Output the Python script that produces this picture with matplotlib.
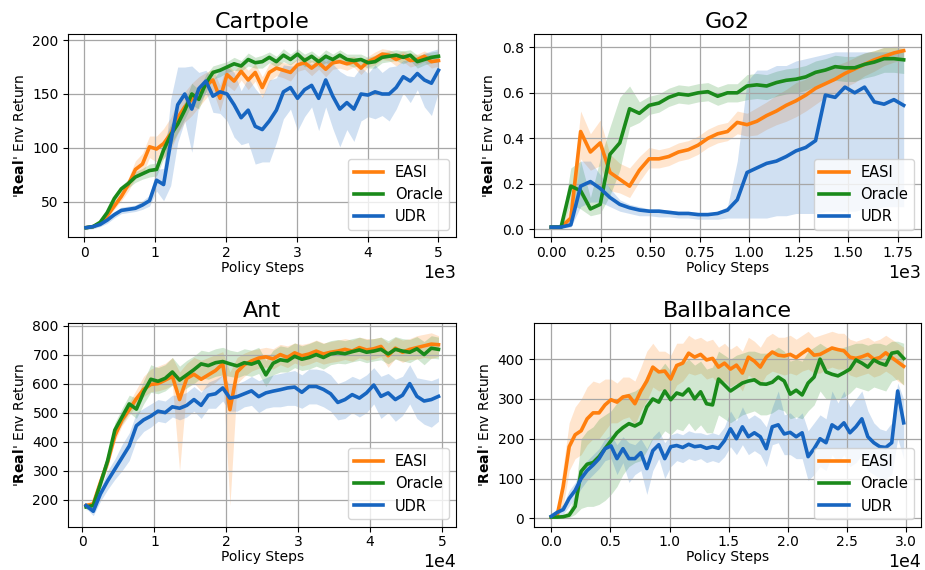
import matplotlib
matplotlib.use("Agg")
import matplotlib.pyplot as plt
import numpy as np

# colours of the three methods
c_easi = "#ff7f0e"
c_oracle = "#1a8a1a"
c_udr = "#1765c0"

# ---------------- Cartpole (steps, 1e3) ----------------
cp_steps = np.linspace(25, 5000, 51)
cp_easi = [26, 27, 30, 37, 46, 55, 66, 80, 85, 101,
           99, 104, 113, 128, 138, 145, 152, 158, 163, 146,
           168, 162, 171, 163, 170, 156, 170, 174, 172, 170,
           177, 179, 174, 179, 173, 179, 180, 178, 180, 174,
           180, 183, 187, 186, 182, 185, 181, 182, 185, 180, 181]
cp_oracle = [26, 27, 31, 40, 53, 62, 67, 73, 76, 79,
             80, 98, 112, 122, 135, 150, 145, 160, 170, 172,
             175, 178, 176, 182, 179, 180, 184, 180, 186, 182,
             187, 181, 185, 180, 185, 182, 186, 182, 181, 182,
             179, 180, 184, 185, 186, 184, 186, 180, 182, 184, 185]
cp_udr = [26, 27, 29, 33, 38, 42, 43, 44, 47, 51,
          70, 66, 105, 140, 150, 136, 155, 162, 148, 152,
          150, 140, 128, 135, 120, 117, 125, 135, 152, 156,
          146, 154, 158, 146, 163, 148, 136, 142, 136, 150,
          149, 152, 150, 150, 156, 166, 162, 169, 163, 160, 172]
cp_easi_sd = [1, 1, 2, 2, 3, 4, 6, 8, 10, 10,
              12, 14, 15, 15, 14, 15, 14, 12, 10, 12,
              10, 9, 8, 9, 8, 10, 8, 7, 7, 8,
              6, 6, 7, 6, 7, 6, 6, 6, 5, 6,
              5, 6, 5, 5, 6, 5, 6, 5, 5, 6, 5]
cp_oracle_sd = [1, 1, 2, 2, 3, 3, 4, 5, 5, 6,
                6, 8, 10, 8, 8, 10, 9, 8, 6, 6,
                5, 6, 5, 6, 5, 6, 5, 5, 6, 5,
                5, 6, 5, 5, 6, 5, 5, 5, 6, 5,
                5, 6, 5, 5, 5, 6, 5, 6, 5, 5, 5]
cp_udr_sd = [2, 2, 2, 3, 3, 3, 3, 3, 4, 5,
             10, 15, 40, 35, 25, 40, 15, 10, 15, 20,
             25, 30, 25, 30, 35, 30, 38, 30, 25, 20,
             30, 25, 20, 30, 25, 30, 35, 25, 30, 25,
             20, 25, 20, 25, 20, 15, 20, 15, 25, 30, 20]

# ---------------- Go2 (steps, 1e3) ----------------
go_steps = np.linspace(0, 1780, 37)
go_easi = [0.01, 0.01, 0.05, 0.43, 0.34, 0.38, 0.25, 0.22, 0.19, 0.26,
           0.31, 0.31, 0.32, 0.34, 0.35, 0.37, 0.40, 0.42, 0.43, 0.47,
           0.46, 0.475, 0.50, 0.52, 0.545, 0.565, 0.59, 0.62, 0.64, 0.66,
           0.685, 0.705, 0.725, 0.745, 0.76, 0.775, 0.785]
go_easi_lo = [0.005, 0.005, 0.02, 0.31, 0.26, 0.28, 0.17, 0.16, 0.14, 0.21,
              0.27, 0.27, 0.28, 0.30, 0.31, 0.33, 0.36, 0.38, 0.39, 0.42,
              0.41, 0.415, 0.44, 0.46, 0.475, 0.495, 0.52, 0.55, 0.58, 0.60,
              0.625, 0.645, 0.675, 0.695, 0.72, 0.735, 0.745]
go_easi_hi = [0.015, 0.015, 0.10, 0.52, 0.42, 0.48, 0.33, 0.29, 0.27, 0.32,
              0.36, 0.35, 0.36, 0.38, 0.39, 0.41, 0.44, 0.46, 0.47, 0.52,
              0.51, 0.535, 0.56, 0.59, 0.615, 0.645, 0.66, 0.69, 0.70, 0.72,
              0.735, 0.755, 0.775, 0.785, 0.80, 0.805, 0.805]
go_oracle = [0.01, 0.01, 0.19, 0.17, 0.09, 0.11, 0.33, 0.38, 0.53, 0.51,
             0.545, 0.555, 0.58, 0.595, 0.59, 0.60, 0.605, 0.585, 0.60, 0.60,
             0.63, 0.635, 0.63, 0.645, 0.655, 0.66, 0.67, 0.69, 0.70, 0.715,
             0.71, 0.71, 0.725, 0.735, 0.75, 0.75, 0.745]
go_oracle_lo = [0.005, 0.005, 0.11, 0.09, 0.06, 0.07, 0.15, 0.26, 0.45, 0.47,
                0.505, 0.515, 0.54, 0.555, 0.55, 0.56, 0.565, 0.545, 0.56, 0.56,
                0.57, 0.575, 0.57, 0.585, 0.595, 0.60, 0.61, 0.63, 0.64, 0.655,
                0.65, 0.65, 0.665, 0.675, 0.69, 0.69, 0.685]
go_oracle_hi = [0.015, 0.015, 0.27, 0.30, 0.14, 0.31, 0.45, 0.58, 0.63, 0.56,
                0.585, 0.595, 0.62, 0.635, 0.63, 0.64, 0.645, 0.625, 0.64, 0.64,
                0.68, 0.685, 0.68, 0.695, 0.705, 0.71, 0.72, 0.74, 0.75, 0.765,
                0.76, 0.76, 0.775, 0.785, 0.80, 0.80, 0.795]
go_udr = [0.01, 0.01, 0.02, 0.19, 0.21, 0.18, 0.14, 0.11, 0.095, 0.085,
          0.08, 0.08, 0.075, 0.07, 0.07, 0.065, 0.065, 0.07, 0.085, 0.13,
          0.25, 0.27, 0.29, 0.30, 0.32, 0.345, 0.36, 0.39, 0.59, 0.58,
          0.625, 0.60, 0.625, 0.56, 0.55, 0.57, 0.545]
go_udr_lo = [0.005, 0.005, 0.01, 0.10, 0.12, 0.12, 0.10, 0.08, 0.07, 0.06,
             0.06, 0.055, 0.055, 0.05, 0.05, 0.045, 0.045, 0.045, 0.05, 0.05,
             0.05, 0.05, 0.05, 0.06, 0.06, 0.07, 0.07, 0.07, 0.08, 0.08,
             0.08, 0.08, 0.09, 0.09, 0.10, 0.10, 0.10]
go_udr_hi = [0.015, 0.015, 0.04, 0.30, 0.30, 0.24, 0.18, 0.13, 0.11, 0.10,
             0.09, 0.09, 0.085, 0.08, 0.08, 0.075, 0.07, 0.08, 0.10, 0.30,
             0.65, 0.70, 0.70, 0.72, 0.72, 0.74, 0.75, 0.76, 0.77, 0.78,
             0.78, 0.78, 0.78, 0.78, 0.78, 0.78, 0.78]

# ---------------- Ant (steps, 1e4) ----------------
ant_steps = np.linspace(500, 49500, 50)
ant_easi = [180, 185, 260, 330, 420, 475, 510, 548, 580, 597,
            600, 612, 625, 545, 618, 632, 615, 630, 645, 668,
            510, 640, 665, 678, 688, 692, 685, 700, 690, 706,
            696, 702, 712, 702, 708, 712, 718, 712, 724, 716,
            720, 728, 696, 722, 708, 718, 724, 730, 736, 734]
ant_easi_lo = [170, 175, 245, 310, 400, 455, 490, 528, 555, 572,
               575, 582, 595, 300, 588, 602, 575, 590, 605, 628,
               180, 600, 625, 643, 653, 657, 650, 665, 655, 671,
               661, 667, 677, 667, 673, 677, 683, 677, 689, 681,
               685, 693, 656, 687, 673, 683, 684, 690, 686, 694]
ant_easi_hi = [190, 195, 275, 350, 440, 495, 535, 580, 625, 650,
               660, 670, 690, 640, 670, 690, 680, 690, 700, 710,
               640, 690, 705, 715, 720, 725, 720, 735, 730, 740,
               735, 740, 750, 740, 745, 750, 755, 750, 760, 755,
               755, 760, 740, 760, 750, 755, 765, 770, 775, 765]
ant_oracle = [175, 180, 255, 335, 440, 485, 530, 512, 570, 615,
              608, 618, 640, 612, 630, 648, 668, 662, 672, 676,
              668, 661, 672, 667, 676, 630, 670, 682, 678, 694,
              684, 690, 700, 690, 702, 706, 703, 710, 716, 708,
              712, 718, 702, 718, 712, 708, 720, 700, 722, 718]
ant_oracle_lo = [165, 170, 240, 315, 420, 460, 500, 480, 530, 570,
                 565, 575, 595, 570, 585, 600, 620, 615, 625, 630,
                 625, 620, 630, 625, 635, 590, 630, 640, 640, 655,
                 645, 650, 660, 650, 665, 670, 668, 675, 680, 672,
                 678, 682, 668, 684, 678, 672, 686, 665, 688, 685]
ant_oracle_hi = [185, 195, 275, 355, 465, 515, 560, 550, 610, 665,
                 655, 665, 690, 660, 680, 695, 715, 710, 720, 725,
                 715, 710, 720, 715, 725, 680, 715, 730, 725, 740,
                 730, 738, 748, 738, 748, 752, 748, 755, 760, 752,
                 755, 760, 748, 762, 755, 752, 762, 745, 765, 760]
ant_udr = [180, 160, 220, 265, 305, 345, 385, 455, 475, 488,
           505, 500, 520, 515, 525, 545, 525, 560, 565, 585,
           550, 555, 565, 575, 555, 568, 574, 579, 585, 588,
           570, 590, 590, 580, 565, 535, 545, 562, 550, 568,
           595, 556, 568, 545, 560, 600, 556, 540, 545, 556]
ant_udr_lo = [170, 145, 195, 235, 270, 300, 335, 405, 435, 450,
              470, 465, 485, 475, 485, 505, 480, 515, 515, 540,
              505, 505, 520, 525, 500, 515, 520, 520, 525, 525,
              515, 530, 530, 520, 505, 475, 480, 500, 485, 500,
              530, 480, 500, 470, 490, 530, 480, 460, 450, 470]
ant_udr_hi = [190, 175, 240, 300, 340, 390, 430, 500, 515, 530,
              545, 540, 560, 560, 570, 590, 570, 605, 615, 630,
              595, 600, 610, 625, 610, 620, 630, 635, 640, 645,
              630, 650, 650, 645, 630, 600, 610, 625, 615, 630,
              655, 625, 635, 615, 625, 665, 620, 615, 610, 620]

# ---------------- Ballbalance (steps, 1e4) ----------------
bb_steps = np.linspace(0, 29800, 60)
bb_easi = [3, 8, 80, 180, 210, 220, 250, 265, 265, 285,
           298, 292, 305, 308, 288, 320, 345, 380, 368, 370,
           350, 384, 390, 415, 405, 412, 398, 402, 380, 390,
           375, 385, 365, 405, 395, 380, 405, 418, 410, 408,
           412, 404, 415, 425, 410, 412, 420, 428, 424, 421,
           405, 402, 406, 412, 400, 404, 416, 404, 393, 382]
bb_easi_lo = [0, 2, 30, 120, 150, 160, 185, 200, 200, 220,
              240, 240, 250, 255, 235, 270, 295, 330, 320, 325,
              305, 335, 345, 365, 360, 365, 350, 355, 335, 345,
              330, 340, 320, 360, 350, 335, 360, 370, 365, 360,
              365, 360, 370, 375, 365, 365, 375, 380, 375, 375,
              360, 355, 360, 365, 355, 360, 370, 360, 345, 335]
bb_easi_hi = [6, 15, 130, 240, 280, 300, 330, 345, 340, 350,
              350, 340, 355, 355, 345, 380, 420, 440, 420, 420,
              410, 440, 440, 460, 450, 455, 445, 450, 430, 440,
              425, 435, 420, 455, 445, 430, 455, 465, 455, 455,
              460, 450, 460, 470, 455, 460, 465, 470, 465, 465,
              450, 445, 450, 455, 445, 450, 460, 450, 440, 430]
bb_oracle = [3, 3, 4, 8, 30, 118, 136, 140, 155, 175,
             195, 215, 228, 238, 232, 240, 280, 300, 292, 320,
             298, 315, 310, 325, 300, 318, 288, 285, 350, 335,
             320, 330, 340, 345, 348, 338, 337, 342, 355, 345,
             312, 322, 310, 340, 355, 400, 368, 362, 358, 366,
             375, 398, 390, 380, 398, 390, 385, 415, 418, 402]
bb_oracle_lo = [0, 0, 0, 2, 10, 25, 30, 30, 35, 45,
                60, 80, 110, 130, 140, 145, 170, 200, 200, 220,
                210, 225, 220, 240, 220, 235, 215, 215, 260, 250,
                240, 250, 260, 265, 270, 260, 260, 265, 275, 270,
                250, 255, 250, 270, 285, 320, 300, 300, 300, 305,
                315, 330, 325, 320, 330, 325, 320, 345, 350, 335]
bb_oracle_hi = [6, 6, 10, 20, 60, 200, 220, 230, 250, 260,
                270, 290, 310, 315, 320, 330, 360, 380, 370, 390,
                370, 390, 390, 400, 385, 395, 375, 380, 420, 410,
                400, 410, 415, 420, 420, 415, 415, 420, 430, 420,
                395, 400, 395, 420, 430, 440, 430, 425, 425, 430,
                435, 440, 440, 435, 440, 440, 435, 445, 445, 440]
bb_udr = [5, 15, 22, 50, 70, 100, 120, 134, 150, 175,
          182, 150, 175, 150, 150, 165, 125, 170, 185, 150,
          180, 183, 178, 186, 180, 182, 176, 180, 176, 195,
          225, 200, 230, 205, 215, 205, 175, 230, 235, 212,
          216, 205, 215, 155, 175, 200, 190, 235, 225, 240,
          215, 230, 250, 205, 190, 180, 178, 190, 320, 240]
bb_udr_lo = [0, 5, 10, 30, 50, 75, 95, 110, 125, 145,
             150, 110, 140, 90, 110, 120, 60, 120, 150, 100,
             130, 145, 140, 150, 145, 150, 140, 145, 140, 155,
             180, 160, 185, 160, 170, 160, 130, 185, 190, 160,
             160, 150, 150, 95, 110, 130, 120, 160, 140, 160,
             130, 140, 160, 120, 110, 100, 100, 110, 200, 150]
bb_udr_hi = [10, 25, 35, 70, 90, 125, 145, 160, 175, 200,
             210, 185, 205, 190, 185, 200, 175, 205, 220, 190,
             210, 215, 210, 220, 215, 215, 210, 215, 210, 230,
             270, 245, 280, 250, 260, 250, 230, 280, 320, 260,
             265, 250, 265, 220, 240, 260, 250, 320, 290, 320,
             280, 300, 320, 270, 240, 225, 220, 240, 340, 300]


def draw(ax, x, mean, lo, hi, color, label):
    ax.fill_between(x, lo, hi, color=color, alpha=0.2, linewidth=0)
    ax.plot(x, mean, color=color, lw=2.6, label=label)


def finish(ax, title, xticks, yticks, ylim):
    ax.set_title(title, fontsize=16, pad=4)
    ax.set_xticks(xticks)
    ax.set_yticks(yticks)
    ax.set_ylim(*ylim)
    ax.ticklabel_format(axis="x", style="sci", scilimits=(0, 0))
    ax.xaxis.get_offset_text().set_fontsize(12.5)
    ax.tick_params(labelsize=10)
    ax.tick_params(axis="x", pad=2.5)
    ax.grid(True, color="0.65", lw=0.9)
    ax.set_xlabel("Policy Steps", fontsize=10, labelpad=1)
    ax.set_ylabel("'" + r"$\mathbf{Real}$" + "' Env Return", fontsize=10)
    ax.legend(loc="lower right", fontsize=10.5)


fig, axs = plt.subplots(2, 2, figsize=(9.25, 5.7), dpi=100)
fig.subplots_adjust(left=0.074, right=0.996, bottom=0.076, top=0.941,
                    wspace=0.2, hspace=0.42)

ax = axs[0, 0]
m = np.array(cp_easi); s = np.array(cp_easi_sd)
draw(ax, cp_steps, m, m - s, m + s, c_easi, "EASI")
m = np.array(cp_oracle); s = np.array(cp_oracle_sd)
draw(ax, cp_steps, m, m - s, m + s, c_oracle, "Oracle")
m = np.array(cp_udr); s = np.array(cp_udr_sd)
draw(ax, cp_steps, m, m - s, m + s, c_udr, "UDR")
finish(ax, "Cartpole", np.arange(0, 5001, 1000), [50, 100, 150, 200], (17, 206))

ax = axs[0, 1]
draw(ax, go_steps, go_easi, go_easi_lo, go_easi_hi, c_easi, "EASI")
draw(ax, go_steps, go_oracle, go_oracle_lo, go_oracle_hi, c_oracle, "Oracle")
draw(ax, go_steps, go_udr, go_udr_lo, go_udr_hi, c_udr, "UDR")
finish(ax, "Go2", np.arange(0, 1751, 250), [0.0, 0.2, 0.4, 0.6, 0.8], (-0.035, 0.86))

ax = axs[1, 0]
draw(ax, ant_steps, ant_easi, ant_easi_lo, ant_easi_hi, c_easi, "EASI")
draw(ax, ant_steps, ant_oracle, ant_oracle_lo, ant_oracle_hi, c_oracle, "Oracle")
draw(ax, ant_steps, ant_udr, ant_udr_lo, ant_udr_hi, c_udr, "UDR")
finish(ax, "Ant", np.arange(0, 50001, 10000), np.arange(200, 801, 100), (107, 809))

ax = axs[1, 1]
draw(ax, bb_steps, bb_easi, bb_easi_lo, bb_easi_hi, c_easi, "EASI")
draw(ax, bb_steps, bb_oracle, bb_oracle_lo, bb_oracle_hi, c_oracle, "Oracle")
draw(ax, bb_steps, bb_udr, bb_udr_lo, bb_udr_hi, c_udr, "UDR")
finish(ax, "Ballbalance", np.arange(0, 30001, 5000), np.arange(0, 401, 100), (-21, 491))

fig.savefig("out.png", dpi=100)
